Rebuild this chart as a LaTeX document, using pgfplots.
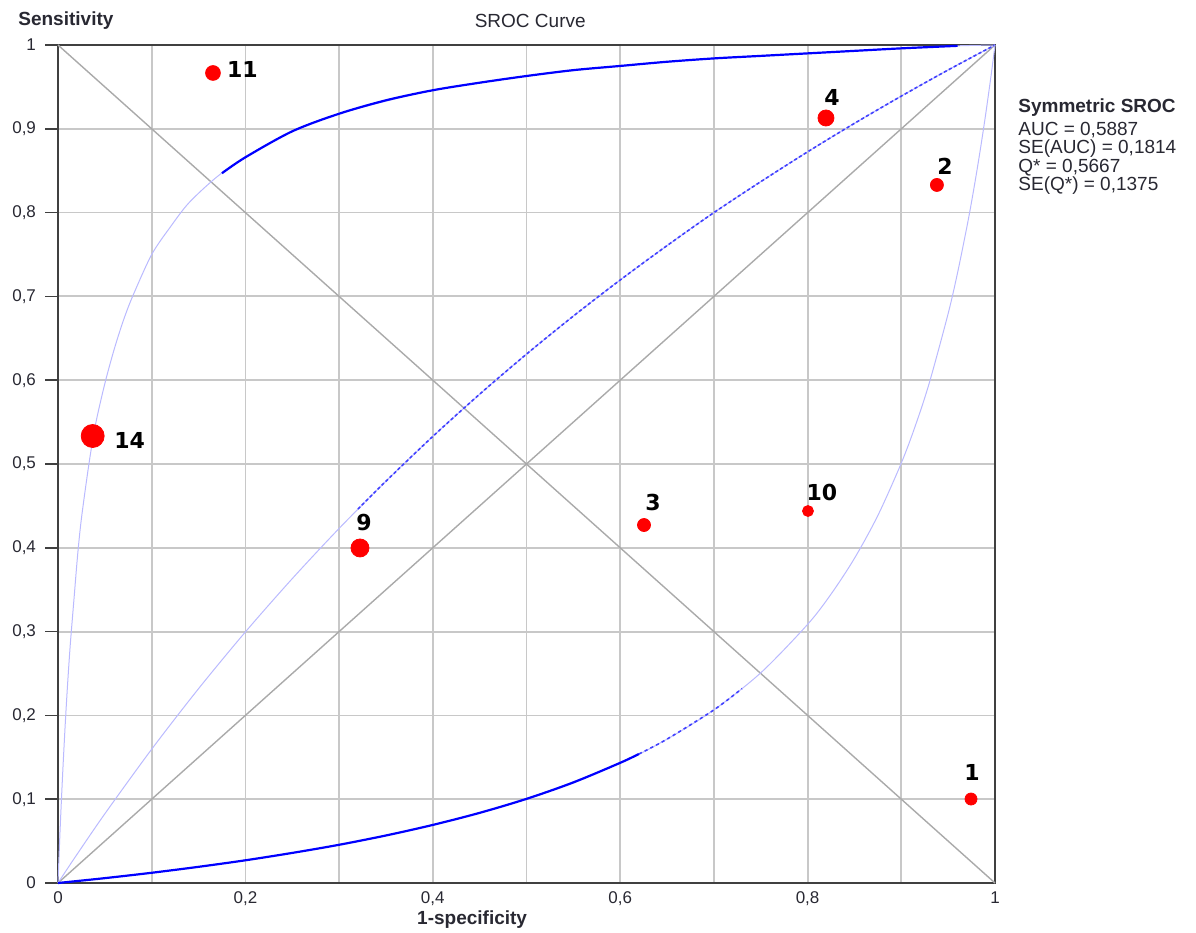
\documentclass[border=0pt]{standalone}
\usepackage{fontspec}
\setmainfont{Liberation Sans}
\newfontfamily\dejavu{DejaVu Sans}
\usepackage{pgfplots}
\pgfplotsset{compat=1.18}
\definecolor{lightblue}{RGB}{186,186,255}
\definecolor{gridgray}{RGB}{200,200,200}
\definecolor{diaggray}{RGB}{170,170,170}
\definecolor{txt}{RGB}{40,40,50}
\tikzset{ptlab/.style={anchor=center, inner sep=0pt, font=\dejavu\bfseries\fontsize{11}{12}\selectfont, text=black}}
\begin{document}
\begin{tikzpicture}
\useasboundingbox (-29pt,-25pt) rectangle (569pt,441.5pt);
\begin{axis}[
  at={(0,0)}, anchor=south west,
  scale only axis, width=468.5pt, height=419pt,
  xmin=0, xmax=1, ymin=0, ymax=1,
  xtick={0,0.2,0.4,0.6,0.8,1},
  minor xtick={0.1,0.3,0.5,0.7,0.9},
  ytick={0,0.1,0.2,0.3,0.4,0.5,0.6,0.7,0.8,0.9,1},
  grid=both,
  major grid style={gridgray, line width=0.9pt},
  minor grid style={gridgray, line width=0.9pt},
  axis line style={black!75, line width=1pt},
  tick align=outside,
  ytick pos=left, xtick pos=bottom,
  major tick length=6.5pt,
  xtick style={draw=none},
  minor tick style={draw=none},
  ytick style={black!75, line width=0.8pt},
  ticklabel style={font=\fontsize{8.5}{10}\selectfont, text=txt},
  yticklabel style={xshift=-1pt},
  xticklabel style={yshift=5.5pt},
  /pgf/number format/.cd, use comma, fixed, precision=1, assume math mode=true,
  /pgfplots/.cd,
  clip=false,
]
% diagonals
\addplot[diaggray, line width=0.7pt] coordinates {(0,0) (1,1)};
\addplot[diaggray, line width=0.7pt] coordinates {(0,1) (1,0)};

% upper bound curve (light base)
\addplot[lightblue, line width=0.5pt, smooth] coordinates {
(0,0) (0.0005,0.0148) (0.001,0.029) (0.002,0.057) (0.003,0.083) (0.005,0.131) (0.0075,0.185)
(0.01,0.233) (0.013,0.283) (0.017,0.338) (0.021,0.392) (0.025,0.435) (0.033,0.5) (0.04,0.547)
(0.05,0.596) (0.06,0.637) (0.07,0.672) (0.08,0.701) (0.1,0.75) (0.12,0.783) (0.14,0.812)
(0.17,0.843) (0.2,0.866) (0.25,0.897) (0.3,0.918) (0.4,0.946) (0.5,0.963) (0.6,0.975)
(0.7,0.984) (0.8,0.990) (0.9,0.996) (0.96,0.999) (1,1)};
% upper bound curve (dark part)
\addplot[blue, line width=1.1pt, smooth] coordinates {
(0.175,0.847) (0.2,0.866) (0.25,0.897) (0.3,0.918) (0.35,0.934) (0.4,0.946) (0.45,0.955)
(0.5,0.963) (0.55,0.970) (0.6,0.975) (0.65,0.980) (0.7,0.984) (0.75,0.987) (0.8,0.990)
(0.85,0.993) (0.9,0.996) (0.96,0.999)};

% SROC curve (light base)
\addplot[lightblue, line width=0.5pt, smooth] coordinates {
(0,0) (0.01,0.017) (0.02,0.0337) (0.05,0.0826) (0.1,0.1597) (0.15,0.2319) (0.2,0.2996)
(0.25,0.3632) (0.3,0.4231) (0.35,0.4795) (0.4,0.5329) (0.45,0.5833) (0.5,0.6311)
(0.55,0.6765) (0.6,0.7196) (0.65,0.7606) (0.7,0.8) (0.75,0.8369) (0.8,0.8725)
(0.85,0.9065) (0.9,0.939) (0.95,0.9702) (1,1)};
% SROC curve (dotted darker part)
\addplot[blue!75, line width=0.8pt, dash pattern=on 1.6pt off 1.2pt, smooth] coordinates {
(0.32,0.4462) (0.35,0.4795) (0.4,0.5329) (0.45,0.5833) (0.5,0.6311)
(0.55,0.6765) (0.6,0.7196) (0.65,0.7606) (0.7,0.8) (0.75,0.8369) (0.8,0.8725)
(0.85,0.9065) (0.9,0.939) (0.95,0.9702) (1,1)};

% lower bound curve (light base)
\addplot[lightblue, line width=0.5pt, smooth] coordinates {
(0,0) (0.1,0.0122) (0.2,0.0271) (0.3,0.0456) (0.4,0.0693) (0.5,0.1004) (0.6,0.1434)
(0.65,0.1717) (0.7,0.2066) (0.75,0.2508) (0.8,0.3086) (0.825,0.3447) (0.85,0.3874)
(0.875,0.4386) (0.9,0.5011) (0.915,0.5457) (0.93,0.5972) (0.95,0.6795) (0.96,0.728)
(0.97,0.783) (0.975,0.813) (0.98,0.8454) (0.985,0.88) (0.99,0.917) (0.995,0.9569)
(0.9975,0.978) (1,1)};
% lower bound curve (dark part)
\addplot[blue, line width=1.1pt, smooth] coordinates {
(0,0) (0.05,0.0058) (0.1,0.0122) (0.15,0.0193) (0.2,0.0271) (0.25,0.0359) (0.3,0.0456)
(0.35,0.0567) (0.4,0.0693) (0.45,0.0837) (0.5,0.1004) (0.55,0.12) (0.6,0.1434) (0.62,0.154)};
\addplot[blue!75, line width=0.8pt, dash pattern=on 1.6pt off 1.6pt, smooth] coordinates {
(0.62,0.154) (0.65,0.1717) (0.7,0.2066) (0.73,0.232)};

% studies
\addplot[only marks, mark=*, red, mark size=3.7pt, nodes near coords={11},
  nodes near coords style={ptlab, xshift=14.75pt, yshift=2pt}] coordinates {(0.1654,0.9666)};
\addplot[only marks, mark=*, red, mark size=5.75pt, nodes near coords={14},
  nodes near coords style={ptlab, xshift=18.5pt, yshift=-2pt}] coordinates {(0.037,0.5334)};
\addplot[only marks, mark=*, red, mark size=4.0pt, nodes near coords={4},
  nodes near coords style={ptlab, xshift=3pt, yshift=10.25pt}] coordinates {(0.8196,0.9129)};
\addplot[only marks, mark=*, red, mark size=3.25pt, nodes near coords={2},
  nodes near coords style={ptlab, xshift=4pt, yshift=9.5pt}] coordinates {(0.938,0.833)};
\addplot[only marks, mark=*, red, mark size=4.5pt, nodes near coords={9},
  nodes near coords style={ptlab, xshift=2pt, yshift=12.5pt}] coordinates {(0.3223,0.3998)};
\addplot[only marks, mark=*, red, mark size=3.25pt, nodes near coords={3},
  nodes near coords style={ptlab, xshift=4.5pt, yshift=11.5pt}] coordinates {(0.6254,0.4272)};
\addplot[only marks, mark=*, red, mark size=2.75pt, nodes near coords={10},
  nodes near coords style={ptlab, xshift=7pt, yshift=9.5pt}] coordinates {(0.8004,0.4439)};
\addplot[only marks, mark=*, red, mark size=3.0pt, nodes near coords={1},
  nodes near coords style={ptlab, xshift=0.5pt, yshift=13.5pt}] coordinates {(0.9744,0.1002)};

% texts
\node[anchor=west, inner sep=0pt, xshift=-20pt, yshift=12pt, text=txt,
  font=\bfseries\fontsize{9.5}{10}\selectfont] at (rel axis cs:0,1) {Sensitivity};
\node[anchor=center, inner sep=0pt, yshift=12pt, text=txt,
  font=\fontsize{9.5}{10}\selectfont] at (rel axis cs:0.504,1) {SROC Curve};
\node[anchor=center, inner sep=0pt, yshift=-18.5pt, text=txt,
  font=\bfseries\fontsize{9.5}{10}\selectfont] at (rel axis cs:0.442,0) {1-specificity};
\node[anchor=north west, inner sep=0pt, xshift=11.5pt, yshift=-26.5pt, align=left, text=txt,
  font=\fontsize{9.5}{9.25}\selectfont] at (rel axis cs:1,1)
  {\textbf{Symmetric SROC}\\[2.25pt]AUC = 0,5887\\SE(AUC) = 0,1814\\Q* = 0,5667\\SE(Q*) = 0,1375};
\end{axis}
\end{tikzpicture}
\end{document}
